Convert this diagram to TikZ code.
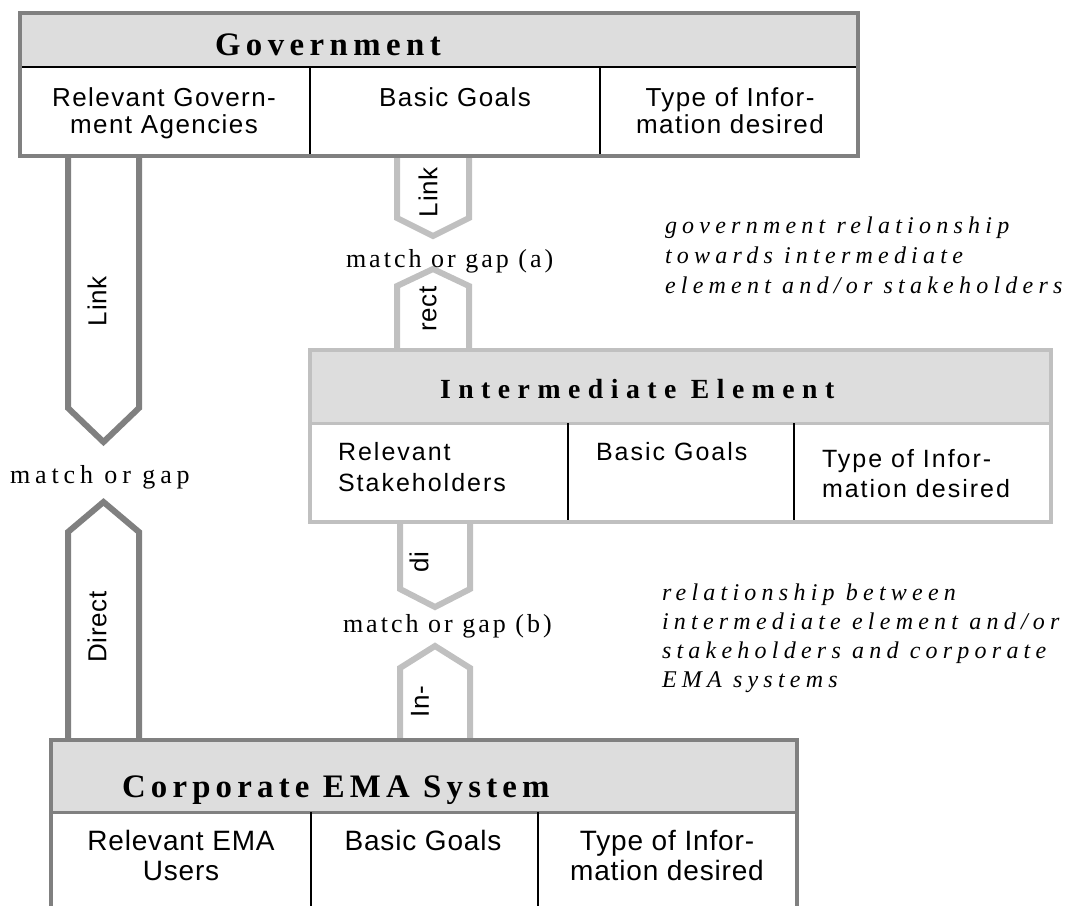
\documentclass[tikz,border=0pt]{standalone}
\usepackage{fontspec}
\setmainfont{Liberation Serif}
\newfontfamily\TitleGov{Liberation Serif}[LetterSpace=16.6]
\newfontfamily\TitleInt{Liberation Serif}[LetterSpace=27.1]
\newfontfamily\TitleCorp{Liberation Serif}[LetterSpace=15.9]
\newfontfamily\CellTop{Liberation Sans}[LetterSpace=5.5]
\newfontfamily\CellMid{Liberation Sans}[LetterSpace=8]
\newfontfamily\CellBot{Liberation Sans}[LetterSpace=3]
\newfontfamily\ArrowFont{Liberation Sans}[LetterSpace=3]
\newfontfamily\GapFontL{Liberation Serif}[LetterSpace=18.8]
\newfontfamily\GapFontM{Liberation Serif}[LetterSpace=11.6]
\newfontfamily\NoteFont{Liberation Serif}[LetterSpace=21.8]
\definecolor{darkb}{HTML}{808080}
\definecolor{lightb}{HTML}{C0C0C0}
\definecolor{hdrfill}{HTML}{DDDDDD}
\tikzset{
  every node/.style={inner sep=0pt, outer sep=0pt},
  darkarrow/.style={draw=darkb, line width=6pt, fill=white, line join=miter},
  lightarrow/.style={draw=lightb, line width=6pt, fill=white, line join=miter},
  darkbox/.style={draw=darkb, line width=4pt},
  lightbox/.style={draw=lightb, line width=4pt},
  divider/.style={draw=black, line width=2pt},
  govtitle/.style={anchor=base west, font={\TitleGov\bfseries\fontsize{32.8}{36}\selectfont}},
  inttitle/.style={anchor=base west, font={\TitleInt\bfseries\fontsize{27.7}{32}\selectfont}},
  corptitle/.style={anchor=base west, font={\TitleCorp\bfseries\fontsize{32.8}{36}\selectfont}},
  celltop/.style={anchor=base, font={\CellTop\fontsize{26}{27}\selectfont}},
  cellmid/.style={anchor=base west, font={\CellMid\fontsize{25}{31}\selectfont}},
  cellbot/.style={anchor=base, font={\CellBot\fontsize{28}{30}\selectfont}},
  arrowtxt/.style={rotate=90, font={\ArrowFont\fontsize{26}{28}\selectfont}},
  gapleft/.style={anchor=base west, font={\GapFontL\fontsize{26}{28}\selectfont}},
  gapmid/.style={anchor=base west, font={\GapFontM\fontsize{26}{28}\selectfont}},
  note/.style={anchor=base west, font={\NoteFont\itshape\fontsize{24}{30}\selectfont}},
}
\begin{document}
\begin{tikzpicture}[x=1pt, y=-1pt]
\clip (0,0) rectangle (1076,905);
\fill[white] (0,0) rectangle (1076,905);

% ---- block arrows ----
\draw[darkarrow] (68,150) -- (68,408) -- (103.5,442) -- (139,408) -- (139,150);
\draw[darkarrow] (68,745) -- (68,532) -- (103.5,502) -- (139,532) -- (139,745);
\draw[lightarrow] (397,150) -- (397,218) -- (433,236) -- (469,218) -- (469,150);
\draw[lightarrow] (397,355) -- (397,286) -- (433,269) -- (469,286) -- (469,355);
\draw[lightarrow] (400,515) -- (400,589) -- (435,607) -- (470,589) -- (470,515);
\draw[lightarrow] (400,745) -- (400,668) -- (435,646) -- (470,668) -- (470,745);

\node[arrowtxt] (linkL) at (97,301) {Link};
\node[arrowtxt] (directL) at (97,627) {Direct};
\node[arrowtxt] (linkM) at (428,192) {Link};
\node[arrowtxt] (rectM) at (428,309) {rect};
\node[arrowtxt] (diM) at (419,562) {di};
\node[arrowtxt] (inM) at (420,702) {In-};

% ---- Government box ----
\fill[hdrfill] (20,13) rectangle (858,67);
\fill[white] (20,67) rectangle (858,155.5);
\draw[divider] (20,67) -- (858,67);
\draw[divider] (310,67) -- (310,155.5);
\draw[divider] (600,67) -- (600,155.5);
\draw[darkbox] (20,13) rectangle (858,155.5);
\node[govtitle] (gov) at (215,55) {Government};
\node[celltop] (g11) at (164,106) {Relevant Govern-};
\node[celltop] (g12) at (164,133) {ment Agencies};
\node[celltop] (g2) at (455,106) {Basic Goals};
\node[celltop] (g31) at (730,106) {Type of Infor-};
\node[celltop] (g32) at (730,133) {mation desired};

% ---- Intermediate box ----
\fill[hdrfill] (310,350) rectangle (1051,423);
\fill[white] (310,423) rectangle (1051,521.5);
\draw[lightb, line width=3pt] (310,423) -- (1051,423);
\draw[divider] (568,423) -- (568,521.5);
\draw[divider] (794,423) -- (794,521.5);
\draw[lightbox] (310,350) rectangle (1051,521.5);
\node[inttitle] (inter) at (440,398) {Intermediate Element};
\node[cellmid] (i11) at (338,460) {Relevant};
\node[cellmid] (i12) at (338,491) {Stakeholders};
\node[cellmid] (i2) at (596,460) {Basic Goals};
\node[cellmid] (i31) at (822,467) {Type of Infor-};
\node[cellmid] (i32) at (822,497) {mation desired};

% ---- Corporate box ----
\fill[hdrfill] (51,740) rectangle (797,812);
\fill[white] (51,812) rectangle (797,910);
\draw[darkb, line width=3pt] (51,812) -- (797,812);
\draw[divider] (311,812) -- (311,910);
\draw[divider] (538,812) -- (538,910);
\draw[darkbox] (51,910) -- (51,740) -- (797,740) -- (797,910);
\node[corptitle] (corp) at (122,797) {Corporate EMA System};
\node[cellbot] (c11) at (181,850) {Relevant EMA};
\node[cellbot] (c12) at (181,880) {Users};
\node[cellbot] (c2) at (423,850) {Basic Goals};
\node[cellbot] (c31) at (667,850) {Type of Infor-};
\node[cellbot] (c32) at (667,880) {mation desired};

% ---- labels ----
\node[gapleft] (gapL) at (10,483) {match or gap};
\node[gapmid] (gapA) at (346,267) {match or gap (a)};
\node[gapmid] (gapB) at (343,632) {match or gap (b)};

\node[note] (n11) at (665,233) {government relationship};
\node[note] (n12) at (665,263) {towards intermediate};
\node[note] (n13) at (665,293) {element and/or stakeholders};

\node[note] (n21) at (662,600) {relationship between};
\node[note] (n22) at (662,629) {intermediate element and/or};
\node[note] (n23) at (662,658) {stakeholders and corporate};
\node[note] (n24) at (662,687) {EMA systems};
\end{tikzpicture}
\end{document}
